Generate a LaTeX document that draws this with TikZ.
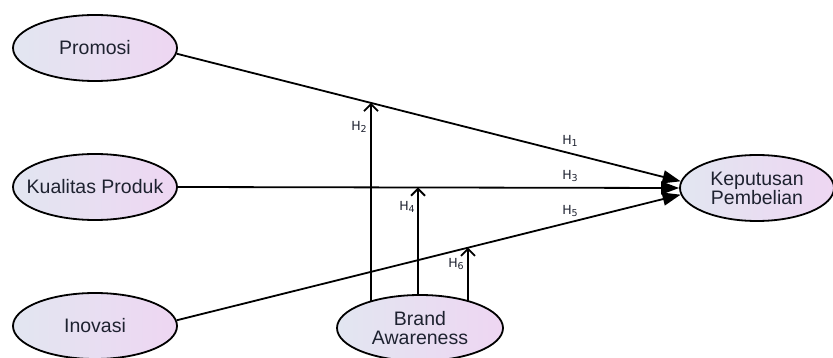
\documentclass[tikz,border=0pt]{standalone}
\usepackage{fontspec}
\setmainfont{Liberation Sans}
\newfontfamily\hfont{DejaVu Sans}
\usetikzlibrary{arrows.meta,shapes.geometric,intersections,backgrounds}
\definecolor{shl}{RGB}{226,230,241}
\definecolor{shr}{RGB}{238,214,242}
\definecolor{txtc}{RGB}{30,34,48}
\newcommand\hlab[1]{H\raisebox{-2.5pt}{\fontsize{9.5}{9.5}\selectfont #1}}
\begin{document}
\begin{tikzpicture}[x=1pt,y=-1pt,
  var/.style={ellipse, draw, line width=1.8pt, minimum width=164pt, minimum height=66pt,
    inner sep=0pt, left color=shl, right color=shr},
  txt/.style={font=\fontsize{19.5}{19}\selectfont, align=center, text=txtc, inner sep=0pt},
  pathar/.style={line width=1.8pt, -{Triangle[length=18pt,width=13pt]}},
  modar/.style={line width=1.8pt, -{Straight Barb[length=7pt,width=14pt,line width=1.8pt]}},
  hl/.style={font=\hfont\fontsize{12.5}{12.5}\selectfont, text=txtc, inner sep=0pt}]
\useasboundingbox (0,0) rectangle (833,358);
\clip (0,0) rectangle (833,358);
\node[var, label={[txt]center:Promosi}] (pro) at (95,48) {};
\node[var, label={[txt]center:Kualitas Produk}] (kual) at (95,187) {};
\node[var, label={[txt]center:Inovasi}] (ino) at (95,326) {};
\node[var, minimum width=154pt, label={[txt]center:{Keputusan\\Pembelian}}] (kep) at (757,188) {};
\node[var, minimum width=166pt, label={[txt]center:{Brand\\Awareness}}] (ba) at (420,328) {};

\draw[pathar, name path=l1] (pro.-4) -- (kep.175);
\draw[pathar, name path=l3] (kual.east) -- (kep.west);
\draw[pathar, name path=l5] (ino.4) -- (kep.185);

\path[name path=v2] (371,0) -- (371,358);
\path[name path=v4] (418,0) -- (418,358);
\path[name path=v6] (468,0) -- (468,358);
\path[name intersections={of=l1 and v2, by=t2}];
\path[name intersections={of=l3 and v4, by=t4}];
\path[name intersections={of=l5 and v6, by=t6}];
\begin{scope}[on background layer]
\draw[modar] (ba.center -| t2) -- (t2);
\draw[modar] (ba.center -| t4) -- (t4);
\draw[modar] (ba.center -| t6) -- (t6);
\end{scope}

\node[hl] (h1) at (570,141) {\hlab{1}};
\node[hl] (h3) at (570,176) {\hlab{3}};
\node[hl] (h5) at (570,211) {\hlab{5}};
\node[hl] (h2) at (359,127) {\hlab{2}};
\node[hl] (h4) at (407,207) {\hlab{4}};
\node[hl] (h6) at (456,264) {\hlab{6}};
\end{tikzpicture}
\end{document}
